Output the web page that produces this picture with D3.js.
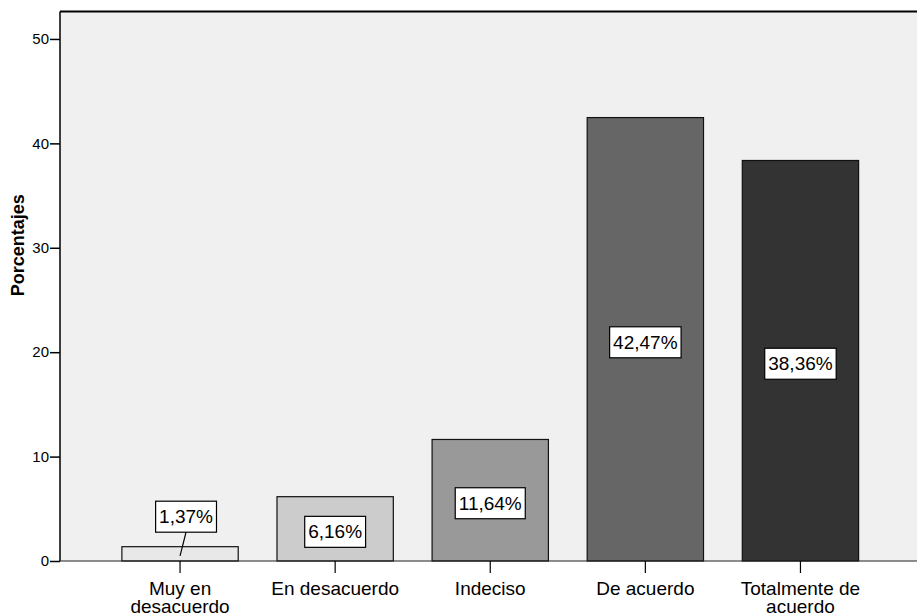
<!DOCTYPE html>
<html>
<head>
<meta charset="utf-8">
<script src="https://cdn.jsdelivr.net/npm/d3@7"></script>
<style>
  html, body { margin: 0; padding: 0; background: #ffffff; }
  svg { display: block; font-family: "Liberation Sans", Arial, sans-serif; }
</style>
</head>
<body>
<svg id="chart" width="917" height="615"></svg>
<script>
// Response categories (each may wrap onto two lines)
const categories = ["Muy en desacuerdo", "En desacuerdo", "Indeciso", "De acuerdo", "Totalmente de acuerdo"];
const categoryLines = [["Muy en", "desacuerdo"], ["En desacuerdo"], ["Indeciso"], ["De acuerdo"], ["Totalmente de", "acuerdo"]];
// Percentage of respondents per category
const percentages = [1.37, 6.16, 11.64, 42.47, 38.36];
const valueLabels = ["1,37%", "6,16%", "11,64%", "42,47%", "38,36%"];
const barFills = ["#e8e8e8", "#cccccc", "#999999", "#666666", "#333333"];
const yTicks = [0, 10, 20, 30, 40, 50];
const yTitle = "Porcentajes";

const svg = d3.select("#chart");
const plot = { left: 60, top: 11.5, right: 930, bottom: 561 };

const x = d3.scaleBand()
  .domain(categories)
  .range([102.5, 878])
  .paddingInner(0.25)
  .paddingOuter(0.125);

const y = d3.scaleLinear()
  .domain([0, 52.63])
  .range([plot.bottom, plot.top]);

// Plot background
svg.append("rect")
  .attr("x", plot.left).attr("y", plot.top)
  .attr("width", plot.right - plot.left).attr("height", plot.bottom - plot.top)
  .attr("fill", "#f0f0f0");

// Top frame line
svg.append("line")
  .attr("x1", plot.left).attr("x2", plot.right)
  .attr("y1", plot.top).attr("y2", plot.top)
  .attr("stroke", "#000").attr("stroke-width", 2);

// Bars
svg.append("g").selectAll("rect")
  .data(percentages)
  .join("rect")
  .attr("x", (d, i) => x(categories[i]))
  .attr("y", d => y(d))
  .attr("width", x.bandwidth())
  .attr("height", d => y(0) - y(d))
  .attr("fill", (d, i) => barFills[i])
  .attr("stroke", "#111")
  .attr("stroke-width", 1.2);

// Y axis
const yAxis = svg.append("g")
  .attr("transform", `translate(${plot.left},0)`)
  .call(d3.axisLeft(y).tickValues(yTicks).tickSize(10).tickPadding(1).tickFormat(d3.format("d")));
yAxis.select(".domain").remove();
yAxis.selectAll(".tick line").attr("stroke", "#000").attr("stroke-width", 1.5);
yAxis.selectAll(".tick text")
  .attr("font-family", "'Liberation Sans', Arial, sans-serif")
  .attr("font-size", 15).attr("fill", "#000");
svg.append("line")
  .attr("x1", plot.left).attr("x2", plot.left)
  .attr("y1", plot.top).attr("y2", plot.bottom)
  .attr("stroke", "#000").attr("stroke-width", 1.5);

// X axis
svg.append("line")
  .attr("x1", plot.left).attr("x2", plot.right)
  .attr("y1", plot.bottom).attr("y2", plot.bottom)
  .attr("stroke", "#222").attr("stroke-width", 1.2);
const xTicks = svg.append("g");
categories.forEach((c, i) => {
  const cx = x(c) + x.bandwidth() / 2;
  xTicks.append("line")
    .attr("x1", cx).attr("x2", cx)
    .attr("y1", plot.bottom).attr("y2", plot.bottom + 12)
    .attr("stroke", "#000").attr("stroke-width", 1.2);
  const t = xTicks.append("text")
    .attr("x", cx).attr("y", plot.bottom + 34)
    .attr("text-anchor", "middle")
    .attr("font-size", 19).attr("fill", "#000");
  categoryLines[i].forEach((line, k) => {
    t.append("tspan").attr("x", cx).attr("dy", k === 0 ? 0 : 18).text(line);
  });
});

// Y axis title
svg.append("text")
  .attr("transform", `translate(24,${(plot.top + plot.bottom) / 2 - 41}) rotate(-90)`)
  .attr("text-anchor", "middle")
  .attr("font-size", 18).attr("font-weight", "bold").attr("fill", "#000")
  .text(yTitle);

// Value labels in boxes
const labels = svg.append("g");
percentages.forEach((v, i) => {
  const cx = x(categories[i]) + x.bandwidth() / 2;
  const barH = y(0) - y(v);
  const fitsInside = barH > 40;
  const lx = fitsInside ? cx : cx + 6;
  const ly = fitsInside ? (y(v) + y(0)) / 2 + 3 : y(v) - 30;
  const g = labels.append("g");
  const rect = g.append("rect").attr("fill", "#fff").attr("stroke", "#000").attr("stroke-width", 1.2);
  const txt = g.append("text")
    .attr("x", lx).attr("y", ly)
    .attr("text-anchor", "middle").attr("dominant-baseline", "central")
    .attr("font-size", 19).attr("fill", "#000")
    .text(valueLabels[i]);
  const w = txt.node().getComputedTextLength() + 7;
  const h = 31;
  rect.attr("x", lx - w / 2).attr("y", ly - h / 2).attr("width", w).attr("height", h);
  if (!fitsInside) {
    g.append("line")
      .attr("x1", lx).attr("y1", ly + h / 2)
      .attr("x2", cx).attr("y2", (y(v) + y(0)) / 2 + 2)
      .attr("stroke", "#000").attr("stroke-width", 1.2);
  }
});
</script>
</body>
</html>
